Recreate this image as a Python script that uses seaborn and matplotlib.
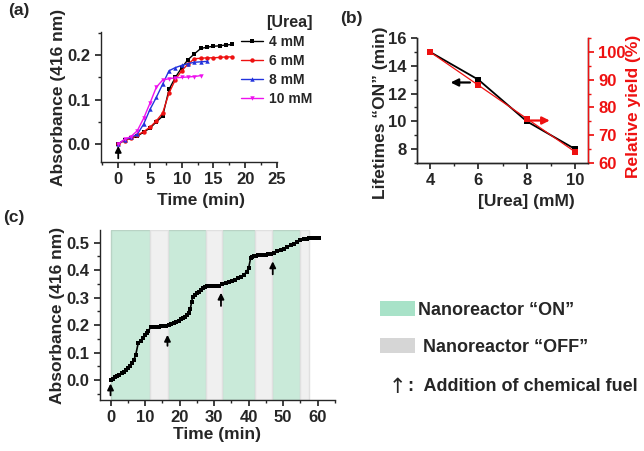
import numpy as np
import pandas as pd
import matplotlib.pyplot as plt
import seaborn as sns
from matplotlib.patches import Patch
from matplotlib.ticker import MultipleLocator

# --- Data ---
# (a) absorbance vs time for each urea concentration
t_4mm = list(range(19))
abs_4mm = [0, 0.010, 0.013, 0.018, 0.027, 0.036, 0.050, 0.063, 0.123, 0.150, 0.172,
           0.190, 0.203, 0.215, 0.218, 0.220, 0.221, 0.223, 0.224]
t_6mm = list(range(19))
abs_6mm = [0, 0.008, 0.013, 0.020, 0.028, 0.038, 0.052, 0.070, 0.115, 0.145, 0.165,
           0.180, 0.192, 0.193, 0.194, 0.194, 0.195, 0.196, 0.196]
t_8mm = list(range(15))
abs_8mm = [0, 0.010, 0.015, 0.022, 0.045, 0.078, 0.105, 0.135, 0.165, 0.172, 0.177,
           0.181, 0.184, 0.185, 0.186]
t_10mm = list(range(14))
abs_10mm = [0, 0.011, 0.017, 0.030, 0.058, 0.092, 0.128, 0.144, 0.147, 0.149, 0.150,
            0.151, 0.152, 0.154]
urea_labels = ['4 mM', '6 mM', '8 mM', '10 mM']

# (b) lifetimes and relative yield
urea_conc = [4, 6, 8, 10]
lifetime_on = [15, 13, 10, 8]
rel_yield = [100, 88, 76, 64]

# (c) repeated fuel additions
time_c = [0, 0.6, 1.2, 1.9, 2.5, 3.2, 3.8, 4.5, 5.1, 5.7, 6.2, 6.8, 7.3, 8.0, 8.8, 9.4, 9.9,
          10.5, 11.0, 11.6, 12.1, 12.6, 13.1, 13.6, 14.1, 14.6, 15.1, 15.6, 16.1,
          16.9, 17.6, 18.3, 19.0, 19.8, 20.5, 21.1, 21.7, 22.2, 22.7, 23.1, 23.5, 23.8,
          24.4, 25.0, 25.6, 26.2, 26.9, 27.5, 28.0, 28.5, 29.0, 29.5, 30.0, 30.5, 31.0, 31.5,
          32.4, 33.4, 34.3, 35.3, 36.1, 37.0, 37.9, 38.7, 39.4, 40.0, 40.6, 41.1, 41.6,
          42.1, 42.6, 43.1, 43.6, 44.1, 44.6, 45.1, 45.6, 46.1, 46.4,
          47.4, 48.3, 49.3, 50.2, 51.2, 52.2, 53.1, 54.1, 55.0, 56.0, 56.5, 57.0, 57.5,
          58.0, 58.5, 59.0, 59.5, 60.0, 60.5]
abs_c = [0.000, 0.006, 0.010, 0.015, 0.020, 0.025, 0.031, 0.038, 0.044, 0.052, 0.062, 0.075, 0.092,
         0.134, 0.143, 0.155, 0.165, 0.172, 0.179, 0.193, 0.194, 0.194, 0.195, 0.195, 0.195,
         0.196, 0.196, 0.196, 0.197,
         0.201, 0.205, 0.209, 0.213, 0.217, 0.222, 0.226, 0.230, 0.236, 0.244, 0.258, 0.285, 0.304,
         0.310, 0.316, 0.322, 0.328, 0.334, 0.340, 0.341, 0.341, 0.341, 0.341, 0.341, 0.342, 0.342,
         0.342,
         0.348, 0.353, 0.357, 0.362, 0.366, 0.370, 0.376, 0.383, 0.395, 0.407, 0.444, 0.449, 0.452,
         0.453, 0.454, 0.454, 0.455, 0.455, 0.456, 0.456, 0.457, 0.457, 0.458,
         0.463, 0.468, 0.473, 0.478, 0.484, 0.490, 0.496, 0.502, 0.508, 0.514, 0.515, 0.515,
         0.516, 0.516, 0.516, 0.516, 0.516, 0.516, 0.516]
on_start = [0, 16.6, 32.3, 46.9]
on_end = [11.5, 27.8, 41.9, 54.8]
off_start = [11.5, 27.8, 41.9, 54.8]
off_end = [16.6, 32.3, 46.9, 57.6]
fuel_times = [0, 16.5, 32.0, 47.0]
fuel_arrow_base = [-0.055, 0.125, 0.27, 0.385]
fuel_arrow_tip = [-0.012, 0.165, 0.318, 0.432]

# --- Style ---
sns.set_theme(style="ticks")
plt.rcParams['font.family'] = ['Liberation Sans', 'DejaVu Sans']
plt.rcParams['font.weight'] = 'bold'
plt.rcParams['axes.labelweight'] = 'bold'
plt.rcParams['axes.linewidth'] = 1.0
plt.rcParams['xtick.labelsize'] = 12
plt.rcParams['ytick.labelsize'] = 12
plt.rcParams['axes.labelsize'] = 12.5
plt.rcParams['xtick.major.size'] = 4
plt.rcParams['ytick.major.size'] = 4
plt.rcParams['xtick.minor.size'] = 2.5
plt.rcParams['ytick.minor.size'] = 2.5

arrow_k = dict(arrowstyle='-|>', color='black', lw=1.3, shrinkA=0, shrinkB=0,
               mutation_scale=9)

fig = plt.figure(figsize=(6.44, 4.51), dpi=100)

# --- (a) ---
ax_a = fig.add_axes([0.157, 0.641, 0.273, 0.288])
df_a = pd.concat([
    pd.DataFrame({'time': t_4mm, 'abs': abs_4mm, 'urea': urea_labels[0]}),
    pd.DataFrame({'time': t_6mm, 'abs': abs_6mm, 'urea': urea_labels[1]}),
    pd.DataFrame({'time': t_8mm, 'abs': abs_8mm, 'urea': urea_labels[2]}),
    pd.DataFrame({'time': t_10mm, 'abs': abs_10mm, 'urea': urea_labels[3]}),
])
palette_a = dict(zip(urea_labels, ['black', '#ee1111', '#2233dd', '#ee11ee']))
markers_a = dict(zip(urea_labels, ['s', 'o', '^', 'v']))
sns.lineplot(data=df_a, x='time', y='abs', hue='urea', style='urea', palette=palette_a,
             markers=markers_a, dashes=False, markersize=3.2, markeredgewidth=0,
             linewidth=1.0, ax=ax_a)
ax_a.set_xlim(-2.7, 25)
ax_a.set_ylim(-0.04, 0.252)
ax_a.set_xticks([0, 5, 10, 15, 20, 25])
ax_a.set_yticks([0.0, 0.1, 0.2])
ax_a.yaxis.set_minor_locator(MultipleLocator(0.05))
ax_a.xaxis.set_minor_locator(MultipleLocator(2.5))
ax_a.set_xlabel('Time (min)')
ax_a.set_ylabel('Absorbance (416 nm)')
ax_a.xaxis.set_label_coords(0.57, -0.24)
ax_a.yaxis.set_label_coords(-0.2, 0.5)
sns.despine(ax=ax_a)
ax_a.annotate('', xy=(0, -0.004), xytext=(0, -0.032), arrowprops=arrow_k)
leg_a = ax_a.legend(title='[Urea]', loc='upper left', bbox_to_anchor=(0.765, 1.17),
                    frameon=False, fontsize=10, handlelength=1.6, handletextpad=0.4,
                    labelspacing=0.35, borderaxespad=0, alignment='right')
leg_a.get_title().set_fontsize(11.5)
leg_a.get_title().set_fontweight('bold')
ax_a.text(-0.53, 1.13, '(a)', transform=ax_a.transAxes, fontsize=12.5, fontweight='bold')

# --- (b) ---
ax_b = fig.add_axes([0.6475, 0.6386, 0.2655, 0.277])
sns.lineplot(x=urea_conc, y=lifetime_on, color='black', marker='s', markersize=4,
             markeredgewidth=0, linewidth=1.3, ax=ax_b)
ax_b.set_xlim(3.46, 10.53)
ax_b.set_ylim(7, 16)
ax_b.set_xticks(urea_conc)
ax_b.set_yticks([8, 10, 12, 14, 16])
ax_b.xaxis.set_minor_locator(MultipleLocator(1))
ax_b.yaxis.set_minor_locator(MultipleLocator(1))
ax_b.set_xlabel('[Urea] (mM)')
ax_b.set_ylabel('Lifetimes \u201cON\u201d (min)')
ax_b.xaxis.set_label_coords(0.64, -0.25)
ax_b.yaxis.set_label_coords(-0.17, 0.4)
ax_b.spines['top'].set_visible(False)
ax_b2 = ax_b.twinx()
sns.lineplot(x=urea_conc, y=rel_yield, color='#ee1111', marker='s', markersize=4,
             markeredgewidth=0, linewidth=0.9, ax=ax_b2)
ax_b2.set_ylim(60, 105)
ax_b2.set_yticks([60, 70, 80, 90, 100])
ax_b2.yaxis.set_minor_locator(MultipleLocator(5))
ax_b2.set_ylabel('Relative yield (%)', color='#ee1111')
ax_b2.yaxis.set_label_coords(1.22, 0.45)
ax_b2.spines['top'].set_visible(False)
ax_b2.spines['right'].set_color('#ee1111')
ax_b2.tick_params(axis='y', which='both', colors='#ee1111')
ax_b.annotate('', xy=(4.85, 12.8), xytext=(5.65, 12.8),
              arrowprops=dict(arrow_k, lw=1.6, mutation_scale=11))
ax_b2.annotate('', xy=(8.95, 75.3), xytext=(8.15, 75.3),
               arrowprops=dict(arrow_k, lw=1.6, mutation_scale=11, color='#ee1111'))
ax_b.text(-0.45, 1.12, '(b)', transform=ax_b.transAxes, fontsize=12.5, fontweight='bold')

# --- (c) ---
ax_c = fig.add_axes([0.155, 0.113, 0.365, 0.377])
for s, e in zip(on_start, on_end):
    ax_c.axvspan(s, e, facecolor='#c9ead9', edgecolor='#b9d3c5', lw=1, zorder=0)
for s, e in zip(off_start, off_end):
    ax_c.axvspan(s, e, facecolor='#f0f0f0', edgecolor='#e0e0e0', lw=1, zorder=0)
sns.lineplot(x=time_c, y=abs_c, color='black', marker='s', markersize=3,
             markeredgewidth=0, linewidth=1.2, ax=ax_c)
for t, y0, y1 in zip(fuel_times, fuel_arrow_base, fuel_arrow_tip):
    ax_c.annotate('', xy=(t, y1), xytext=(t, y0), arrowprops=arrow_k)
ax_c.set_xlim(-3.1, 65)
ax_c.set_ylim(-0.072, 0.546)
ax_c.set_xticks([0, 10, 20, 30, 40, 50, 60])
ax_c.set_yticks([0.0, 0.1, 0.2, 0.3, 0.4, 0.5])
ax_c.xaxis.set_minor_locator(MultipleLocator(5))
ax_c.yaxis.set_minor_locator(MultipleLocator(0.05))
ax_c.set_xlabel('Time (min)', labelpad=1)
ax_c.set_ylabel('Absorbance (416 nm)')
ax_c.yaxis.set_label_coords(-0.15, 0.5)
sns.despine(ax=ax_c)
ax_c.text(-0.41, 1.05, '(c)', transform=ax_c.transAxes, fontsize=12.5, fontweight='bold')

# legend for (c)
handles = [Patch(facecolor='#a8e2c8', edgecolor='none', label='Nanoreactor \u201cON\u201d'),
           Patch(facecolor='#d6d6d6', edgecolor='none', label=' Nanoreactor \u201cOFF\u201d')]
fig.legend(handles=handles, loc='upper left', bbox_to_anchor=(0.59, 0.333),
           frameon=False, fontsize=13, handlelength=1.95, handleheight=0.95,
           handletextpad=0.15, labelspacing=1.05, borderpad=0, borderaxespad=0)
fig.text(0.603, 0.142, '\u2191', fontsize=15, fontweight='normal', va='center', ha='left',
         family='DejaVu Sans')
fig.text(0.634, 0.142, ':  Addition of chemical fuel', fontsize=13,
         fontweight='bold', va='center', ha='left')

fig.savefig('out.png', dpi=100)
